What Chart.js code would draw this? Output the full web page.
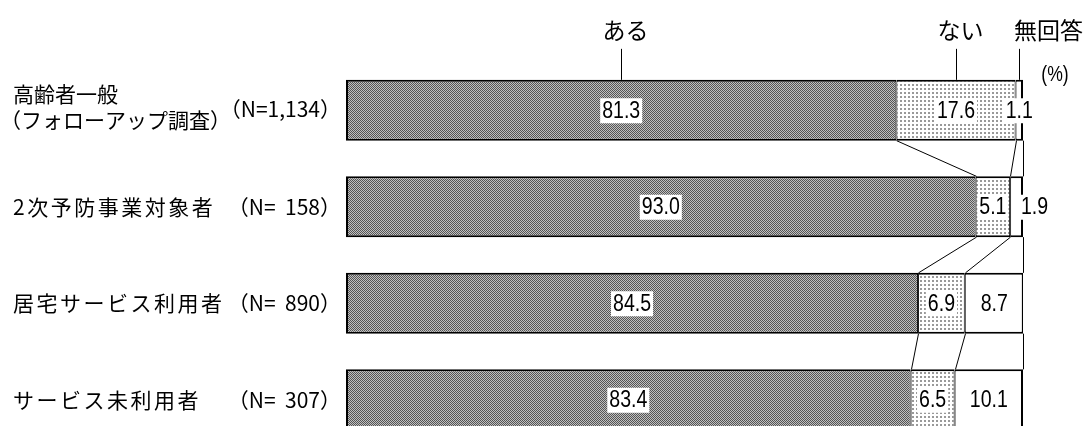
<!DOCTYPE html>
<html lang="ja">
<head>
  <meta charset="UTF-8" />
  <title>ある・ない・無回答</title>
  <script src="https://cdn.jsdelivr.net/npm/chart.js"></script>
  <style>
    html, body {
      margin: 0;
      padding: 0;
      background: #ffffff;
      overflow: hidden;
    }

    .wrap {
      width: 1086px;
      height: 470px;
    }
  </style>
</head>
<body>
  <div class="wrap">
    <canvas id="answerChart"></canvas>
  </div>

  <script>
    // data
    const groupNames = [
      ['高齢者一般', '（フォローアップ調査）'],
      ['2次予防事業対象者'],
      ['居宅サービス利用者'],
      ['サービス未利用者']
    ];
    const sampleSizes = ['（N=1,134）', '（N=  158）', '（N=  890）', '（N=  307）'];
    const seriesNames = ['ある', 'ない', '無回答'];
    const aruValues = [81.3, 93.0, 84.5, 83.4];
    const naiValues = [17.6, 5.1, 6.9, 6.5];
    const mukaitoValues = [1.1, 1.9, 8.7, 10.1];
    const unitLabel = '(%)';

    const jpFont = '"Noto Sans CJK JP", "Noto Sans", sans-serif';
    const numFont = '"Liberation Sans", Arial, sans-serif';

    function makePattern(kind) {
      const c = document.createElement('canvas');
      const g = c.getContext('2d');
      if (kind === 'dark') {
        c.width = 2; c.height = 2;
        g.fillStyle = '#c0c0c0'; g.fillRect(0, 0, 2, 2);
        g.fillStyle = '#555555'; g.fillRect(0, 0, 1, 1); g.fillRect(1, 1, 1, 1);
      } else {
        c.width = 4; c.height = 4;
        g.fillStyle = '#ffffff'; g.fillRect(0, 0, 4, 4);
        g.fillStyle = '#999999'; g.fillRect(0, 0, 2, 2);
      }
      return g.createPattern(c, 'repeat');
    }

    // narrow-looking text: squeeze horizontally around the centre point
    function narrowText(ctx, txt, x, y, sx) {
      ctx.save();
      ctx.translate(x, y);
      ctx.scale(sx, 1);
      ctx.fillText(txt, 0, 0);
      ctx.restore();
    }

    // small per-label nudges (row-dataset -> px to the right)
    const labelNudge = { '1-2': 18 };

    const overlayPlugin = {
      id: 'overlay',
      afterDatasetsDraw(chart) {
        const ctx = chart.ctx;
        const xs = chart.scales.x;
        const ys = chart.scales.y;
        const metas = [0, 1, 2].map(i => chart.getDatasetMeta(i));
        const n = groupNames.length;

        ctx.save();
        ctx.strokeStyle = '#000';
        ctx.lineWidth = 1;

        // connector lines between bars at the segment boundaries
        const cum = (r, k) => {
          let s = 0;
          for (let d = 0; d <= k; d++) s += chart.data.datasets[d].data[r];
          return Math.min(s, 100);
        };
        for (let r = 0; r < n - 1; r++) {
          const a = metas[0].data[r];
          const b = metas[0].data[r + 1];
          const yBot = a.y + a.height / 2;
          const yTop = b.y - b.height / 2;
          for (let k = 0; k < 3; k++) {
            const x1 = Math.round(xs.getPixelForValue(cum(r, k))) + 0.5;
            const x2 = Math.round(xs.getPixelForValue(cum(r + 1, k))) + 0.5;
            ctx.beginPath();
            ctx.moveTo(x1, yBot);
            ctx.lineTo(x2, yTop);
            ctx.stroke();
          }
        }
        {
          const a = metas[0].data[n - 1];
          const x = Math.round(xs.getPixelForValue(100)) + 0.5;
          ctx.beginPath();
          ctx.moveTo(x, a.y + a.height / 2);
          ctx.lineTo(x, chart.height);
          ctx.stroke();
        }

        // legend labels with leader lines above the first bar
        const first = metas.map(m => m.data[0]);
        const topY = first[0].y - first[0].height / 2;
        ctx.font = '23px ' + jpFont;
        ctx.fillStyle = '#000';
        ctx.textBaseline = 'middle';
        ctx.textAlign = 'center';
        seriesNames.forEach((name, i) => {
          const el = first[i];
          const lx = Math.round((el.base + el.x) / 2) + 0.5;
          ctx.beginPath();
          ctx.moveTo(lx, topY - 31);
          ctx.lineTo(lx, topY);
          ctx.stroke();
          const w = ctx.measureText(name).width;
          const tx = i === seriesNames.length - 1 ? chart.width - 3 - w / 2 : lx + 4;
          ctx.fillText(name, tx, 30);
        });
        ctx.font = '22px ' + numFont;
        narrowText(ctx, unitLabel, 1055, 75, 0.8);

        // value labels on white boxes
        ctx.font = '23px ' + numFont;
        const sq = 0.85;
        for (let d = 0; d < 3; d++) {
          metas[d].data.forEach((el, r) => {
            const v = chart.data.datasets[d].data[r];
            const txt = v.toFixed(1);
            const cx = (el.base + el.x) / 2 + (labelNudge[r + '-' + d] || 0);
            const w = ctx.measureText(txt).width * sq;
            ctx.fillStyle = '#fff';
            ctx.fillRect(cx - w / 2 - 2, el.y - 12, w + 4, 25);
            ctx.fillStyle = '#000';
            narrowText(ctx, txt, cx, el.y + 1, sq);
          });
        }

        // group names and sample sizes on the left
        ctx.textAlign = 'left';
        ctx.font = '21px ' + jpFont;
        groupNames.forEach((lines, r) => {
          const cy = ys.getPixelForValue(r);
          if (lines.length === 1) {
            ctx.letterSpacing = '2.5px';
            ctx.fillText(lines[0], 13, cy);
          } else {
            ctx.letterSpacing = '0px';
            ctx.fillText(lines[0], 13, cy - 16);
            ctx.fillText(lines[1], 0, cy + 10);
          }
        });
        ctx.letterSpacing = '0px';
        ctx.textAlign = 'right';
        sampleSizes.forEach((s, r) => {
          const cy = ys.getPixelForValue(r);
          ctx.fillText(s, 341, r === 0 ? cy - 1 : cy);
        });
        ctx.restore();
      }
    };

    const ctx = document.getElementById('answerChart').getContext('2d');
    const chart = new Chart(ctx, {
      type: 'bar',
      data: {
        labels: groupNames.map(l => l.join('')),
        datasets: [
          {
            label: seriesNames[0],
            data: aruValues,
            backgroundColor: makePattern('dark'),
            borderWidth: { left: 2, right: 1, top: 2, bottom: 2 }
          },
          {
            label: seriesNames[1],
            data: naiValues,
            backgroundColor: makePattern('light'),
            borderWidth: { left: 1, right: 1, top: 2, bottom: 2 }
          },
          {
            label: seriesNames[2],
            data: mukaitoValues,
            backgroundColor: '#ffffff',
            borderWidth: { left: 1, right: 2, top: 2, bottom: 2 }
          }
        ]
      },
      options: {
        indexAxis: 'y',
        responsive: true,
        maintainAspectRatio: false,
        animation: false,
        datasets: {
          bar: {
            borderColor: '#000',
            borderSkipped: false,
            categoryPercentage: 1,
            barPercentage: 0.63
          }
        },
        layout: {
          padding: { left: 346, right: 63, top: 62, bottom: 22 }
        },
        plugins: {
          legend: { display: false },
          tooltip: { enabled: false }
        },
        scales: {
          x: {
            stacked: true,
            min: 0,
            max: 100,
            display: false
          },
          y: {
            stacked: true,
            display: false
          }
        }
      },
      plugins: [overlayPlugin]
    });
  </script>
</body>
</html>
